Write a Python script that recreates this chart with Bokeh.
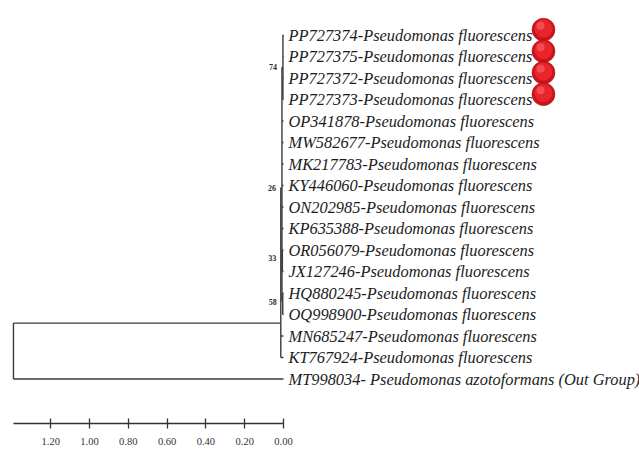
from bokeh.plotting import figure
from bokeh.models import Range1d, LinearAxis, FixedTicker, NumeralTickFormatter, ColumnDataSource
from bokeh.core.properties import value
from bokeh.transform import dodge
from bokeh.embed import file_html
from bokeh.resources import INLINE

# ---------------- data ----------------
taxa = [
    "PP727374-Pseudomonas fluorescens",
    "PP727375-Pseudomonas fluorescens",
    "PP727372-Pseudomonas fluorescens",
    "PP727373-Pseudomonas fluorescens",
    "OP341878-Pseudomonas fluorescens",
    "MW582677-Pseudomonas fluorescens",
    "MK217783-Pseudomonas fluorescens",
    "KY446060-Pseudomonas fluorescens",
    "ON202985-Pseudomonas fluorescens",
    "KP635388-Pseudomonas fluorescens",
    "OR056079-Pseudomonas fluorescens",
    "JX127246-Pseudomonas fluorescens",
    "HQ880245-Pseudomonas fluorescens",
    "OQ998900-Pseudomonas fluorescens",
    "MN685247-Pseudomonas fluorescens",
    "KT767924-Pseudomonas fluorescens",
    "MT998034- Pseudomonas azotoformans (Out Group)",
]
tip_rows = [0, 1, 2, 3, 4, 5, 6, 7, 8, 9, 10, 11, 12, 13, 14, 15, 16]
tip_depth = [0.0, 0.0, 0.0, 0.0, 0.0, 0.0, 0.0, 0.0, 0.0, 0.0, 0.0, 0.0, 0.0, 0.0, 0.0, 0.0, 0.0]
highlighted = ["PP727374", "PP727375", "PP727372", "PP727373"]

# internal nodes: name, depth (distance from tips), row, children, bootstrap
node_names = ["n74", "n33", "n58", "n26", "ingroup", "root"]
node_depth = [0.003, 0.006, 0.004, 0.008, 0.014, 1.392]
node_row = [1.5, 10.35, 12.4, 7.1, 13.4, 14.7]
node_children = [
    ["t0", "t1", "t2", "t3"],
    ["t10", "t11"],
    ["t12", "t13"],
    ["n74", "t4", "t5", "t6", "t7", "t8", "t9", "n33", "n58"],
    ["n26", "t14", "t15"],
    ["ingroup", "t16"],
]
node_bootstrap = [74, 33, 58, 26, None, None]

scale_ticks = [0.0, 0.2, 0.4, 0.6, 0.8, 1.0, 1.2]

# ---------------- build geometry from data ----------------
pos = {}
for i, r in enumerate(tip_rows):
    pos["t%d" % i] = (tip_depth[i], r)
for n, d, r in zip(node_names, node_depth, node_row):
    pos[n] = (d, r)

vx0, vy0, vx1, vy1 = [], [], [], []
hx0, hy0, hx1, hy1 = [], [], [], []
for n, d, r, ch in zip(node_names, node_depth, node_row, node_children):
    rows = [pos[c][1] for c in ch]
    vx0.append(d); vx1.append(d); vy0.append(min(rows)); vy1.append(max(rows))
    for c in ch:
        cd, cr = pos[c]
        hx0.append(d); hx1.append(cd); hy0.append(cr); hy1.append(cr)

root_depth = node_depth[node_names.index("root")]

p = figure(width=639, height=449,
           x_range=Range1d(1.4588, -1.835), y_range=Range1d(19.279, -1.605),
           output_backend="svg", toolbar_location=None,
           x_axis_location=None, y_axis_location=None, min_border=0)
p.outline_line_color = None
p.grid.visible = False
p.background_fill_color = "white"
p.border_fill_color = "white"

line_col = "#3a3a3a"
p.segment(x0=vx0, y0=vy0, x1=vx1, y1=vy1, line_color=line_col, line_width=1.4)
p.segment(x0=hx0, y0=hy0, x1=hx1, y1=hy1, line_color=line_col, line_width=1.4)

# tip labels
src = ColumnDataSource(dict(x=tip_depth, y=tip_rows, label=taxa))
p.text(x="x", y="y", text="label", source=src, x_offset=5,
       text_font=value("Liberation Serif"), text_font_style="italic",
       text_font_size="16.4px", text_baseline="middle", text_align="left",
       text_color="#1c1c1c")

# bootstrap labels
bx, by, bt = [], [], []
for d, r, b in zip(node_depth, node_row, node_bootstrap):
    if b is not None:
        bx.append(d); by.append(r); bt.append(str(b))
p.text(x=bx, y=by, text=bt, x_offset=-6, text_font=value("Liberation Serif"),
       text_font_style="bold", text_font_size="8px", text_baseline="middle",
       text_align="right", text_color="#2a2a2a")

# highlight spheres for the study isolates
hi_rows = [tip_rows[i] for i, t in enumerate(taxa) if t.split("-")[0] in highlighted]
hi_depth = [tip_depth[i] for i, t in enumerate(taxa) if t.split("-")[0] in highlighted]
hs = ColumnDataSource(dict(x=hi_depth, y=hi_rows))
p.scatter(x=dodge("x", -1.34, range=p.x_range), y=dodge("y", -0.25, range=p.y_range),
          source=hs, size=23, fill_color="#c8141b", line_color="#b01218", line_width=0.5)
p.scatter(x=dodge("x", -1.34, range=p.x_range), y=dodge("y", -0.3, range=p.y_range),
          source=hs, size=18, fill_color="#ea242b", line_color=None)
p.scatter(x=dodge("x", -1.325, range=p.x_range), y=dodge("y", -0.43, range=p.y_range),
          source=hs, size=8, fill_color="#f56a6e", fill_alpha=0.6, line_color=None)

# scale bar as an axis
ax = LinearAxis(fixed_location=18.07, bounds=(0, root_depth),
                ticker=FixedTicker(ticks=scale_ticks),
                formatter=NumeralTickFormatter(format="0.00"))
ax.axis_line_width = 1.5
ax.axis_line_color = "#333333"
ax.major_tick_in = 5
ax.major_tick_out = 5
ax.major_tick_line_width = 1.3
ax.major_tick_line_color = "#333333"
ax.minor_tick_line_color = None
ax.major_label_standoff = 9
ax.major_label_text_font = "Liberation Serif"
ax.major_label_text_font_size = "10.5px"
ax.major_label_text_color = "#333333"
p.add_layout(ax, "below")

open("out.html", "w").write(file_html(p, INLINE))
